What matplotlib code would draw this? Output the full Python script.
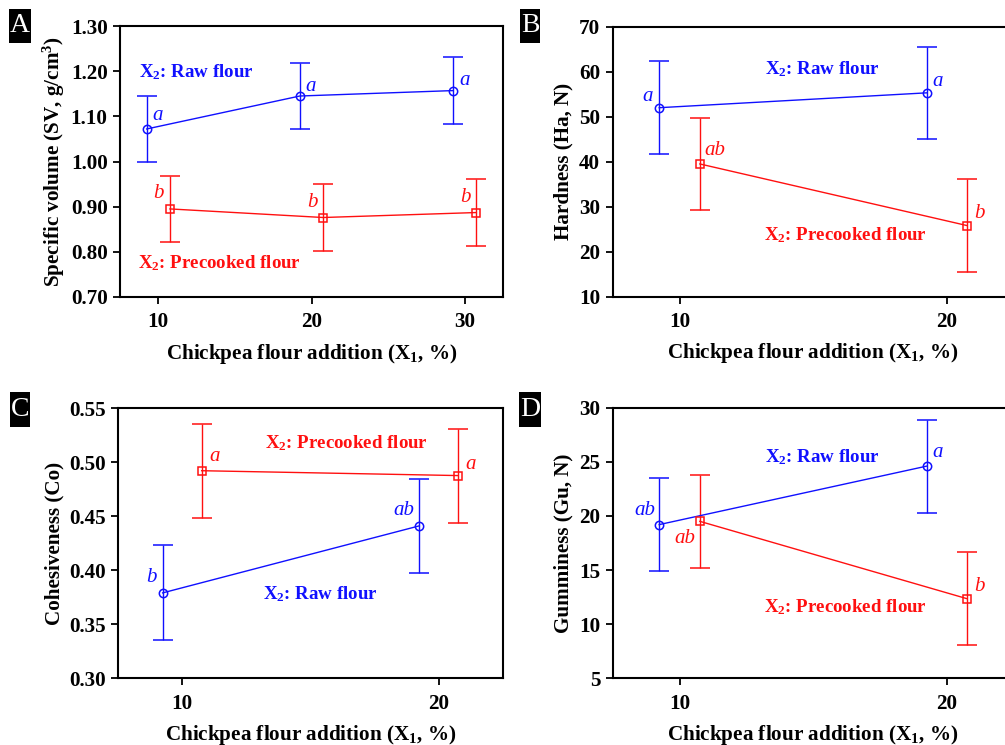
import matplotlib
matplotlib.use("Agg")
import matplotlib.pyplot as plt
from matplotlib.patches import Rectangle

plt.rcParams['font.family'] = ['Liberation Serif', 'DejaVu Serif']
plt.rcParams['mathtext.fontset'] = 'custom'
plt.rcParams['mathtext.rm'] = 'Liberation Serif:bold'
plt.rcParams['mathtext.bf'] = 'Liberation Serif:bold'
plt.rcParams['mathtext.it'] = 'Liberation Serif:italic'

# ---------------- data ----------------
offset = 0.76
# Panel A: specific volume
a_x = [10, 20, 30]
a_raw = [1.072, 1.145, 1.157]
a_raw_err = [0.074, 0.074, 0.074]
a_pre = [0.895, 0.876, 0.887]
a_pre_err = [0.074, 0.074, 0.074]
a_raw_lbl = ['a', 'a', 'a']
a_pre_lbl = ['b', 'b', 'b']

# Panel B: hardness
b_x = [10, 20]
b_raw = [52.0, 55.3]
b_raw_err = [10.3, 10.3]
b_pre = [39.5, 25.8]
b_pre_err = [10.3, 10.3]
b_raw_lbl = ['a', 'a']
b_pre_lbl = ['ab', 'b']

# Panel C: cohesiveness
c_x = [10, 20]
c_raw = [0.379, 0.441]
c_raw_err = [0.044, 0.0435]
c_pre = [0.492, 0.4875]
c_pre_err = [0.0435, 0.0435]
c_raw_lbl = ['b', 'ab']
c_pre_lbl = ['a', 'a']

# Panel D: gumminess
d_x = [10, 20]
d_raw = [19.2, 24.6]
d_raw_err = [4.28, 4.3]
d_pre = [19.5, 12.35]
d_pre_err = [4.3, 4.3]
d_raw_lbl = ['ab', 'a']
d_pre_lbl = ['ab', 'b']

BLUE = '#1010ff'
RED = '#ff1010'

fig = plt.figure(figsize=(10.05, 7.45), dpi=100)
W, H = 1005, 745

def axes_px(left, right, top, bottom):
    return fig.add_axes([left / W, 1 - bottom / H, (right - left) / W, (bottom - top) / H])

axA = axes_px(120, 503, 26, 297)
axB = axes_px(612.7, 1013.7, 26.7, 296.7)
axC = axes_px(118, 503, 408, 678.3)
axD = axes_px(612.7, 1013.7, 407.7, 678.3)

tick_font = dict(family='Liberation Serif', weight='bold', size=15.2)
lab_font = dict(family='Liberation Serif', weight='bold', size=15.2)
ann_font = dict(family='Liberation Serif', weight='bold', size=13.6)

def draw(ax, xs, raw, rerr, pre, perr, rl, pl, roffs, poffs):
    xr = [x - offset for x in xs]
    xp = [x + offset for x in xs]
    ax.errorbar(xr, raw, yerr=rerr, color=BLUE, lw=1.0, elinewidth=1.0, capsize=7.5,
                capthick=1.0, marker='o', ms=6, mfc='none', mec=BLUE, mew=1.1)
    ax.errorbar(xp, pre, yerr=perr, color=RED, lw=1.0, elinewidth=1.0, capsize=7.5,
                capthick=1.0, marker='s', ms=6, mfc='none', mec=RED, mew=1.1)
    for x, y, t, o in zip(xr, raw, rl, roffs):
        ax.annotate(t, (x, y), xytext=o, textcoords='offset points', color=BLUE,
                    fontsize=15, style='italic', family='Liberation Serif',
                    ha='center', va='center')
    for x, y, t, o in zip(xp, pre, pl, poffs):
        ax.annotate(t, (x, y), xytext=o, textcoords='offset points', color=RED,
                    fontsize=15, style='italic', family='Liberation Serif',
                    ha='center', va='center')

def style(ax, xlim, ylim, yticks, fmt, xticks):
    ax.set_xlim(*xlim)
    ax.set_ylim(*ylim)
    ax.set_yticks(yticks)
    ax.set_yticklabels([fmt.format(v) for v in yticks], fontdict=tick_font)
    ax.set_xticks(xticks)
    ax.set_xticklabels([str(v) for v in xticks], fontdict=tick_font)
    for s in ax.spines.values():
        s.set_linewidth(1.5)
        s.set_color('black')
    ax.tick_params(axis='both', direction='out', length=5, width=1.3, pad=4,
                   top=False, right=False)
    ax.tick_params(axis='x', pad=6)
    ax.set_xlabel('Chickpea flour addition (X$_{\\mathbf{1}}$, %)', fontdict=lab_font)
    ax.xaxis.set_label_coords(0.5, -0.165)

# A
draw(axA, a_x, a_raw, a_raw_err, a_pre, a_pre_err, a_raw_lbl, a_pre_lbl,
     [(8, 10), (8, 7), (8, 7)], [(-8, 11), (-8, 11), (-8, 11)])
style(axA, (7.5, 32.5), (0.70, 1.30), [0.70, 0.80, 0.90, 1.00, 1.10, 1.20, 1.30], '{:.2f}', [10, 20, 30])
axA.set_ylabel('Specific volume (SV, g/cm$^{\\mathbf{3}}$)', fontdict=lab_font)
axA.yaxis.set_label_coords(-0.138, 0.5)
axA.text(8.75, 1.198, 'X$_{\\mathbf{2}}$: Raw flour', color=BLUE, fontdict=ann_font, va='center')
axA.text(8.65, 0.775, 'X$_{\\mathbf{2}}$: Precooked flour', color=RED, fontdict=ann_font, va='center')

# B
draw(axB, b_x, b_raw, b_raw_err, b_pre, b_pre_err, b_raw_lbl, b_pre_lbl,
     [(-8, 8), (8, 8)], [(11, 10), (9, 9)])
style(axB, (7.5, 22.5), (10, 70), [10, 20, 30, 40, 50, 60, 70], '{:d}', [10, 20])
axB.set_ylabel('Hardness (Ha, N)', fontdict=lab_font)
axB.yaxis.set_label_coords(-0.098, 0.5)
axB.text(13.2, 60.6, 'X$_{\\mathbf{2}}$: Raw flour', color=BLUE, fontdict=ann_font, va='center')
axB.text(13.17, 23.6, 'X$_{\\mathbf{2}}$: Precooked flour', color=RED, fontdict=ann_font, va='center')

# C
draw(axC, c_x, c_raw, c_raw_err, c_pre, c_pre_err, c_raw_lbl, c_pre_lbl,
     [(-8, 11), (-11, 11)], [(9, 10), (9, 8)])
style(axC, (7.5, 22.5), (0.30, 0.55), [0.30, 0.35, 0.40, 0.45, 0.50, 0.55], '{:.2f}', [10, 20])
axC.set_ylabel('Cohesiveness (Co)', fontdict=lab_font)
axC.yaxis.set_label_coords(-0.14, 0.5)
axC.text(13.23, 0.5173, 'X$_{\\mathbf{2}}$: Precooked flour', color=RED, fontdict=ann_font, va='center')
axC.text(13.16, 0.3775, 'X$_{\\mathbf{2}}$: Raw flour', color=BLUE, fontdict=ann_font, va='center')

# D
draw(axD, d_x, d_raw, d_raw_err, d_pre, d_pre_err, d_raw_lbl, d_pre_lbl,
     [(-10, 10), (8, 10)], [(-11, -12), (9, 9)])
style(axD, (7.5, 22.5), (5, 30), [5, 10, 15, 20, 25, 30], '{:d}', [10, 20])
axD.set_ylabel('Gumminess (Gu, N)', fontdict=lab_font)
axD.yaxis.set_label_coords(-0.098, 0.5)
axD.text(13.2, 25.47, 'X$_{\\mathbf{2}}$: Raw flour', color=BLUE, fontdict=ann_font, va='center')
axD.text(13.17, 11.6, 'X$_{\\mathbf{2}}$: Precooked flour', color=RED, fontdict=ann_font, va='center')

# Panel letters (black boxes with white letters)
for (l, x0, x1, y0, y1) in [('A', 9, 31, 9, 43), ('B', 520, 540, 9, 43),
                            ('C', 10, 30, 392, 427), ('D', 519, 541, 392, 427)]:
    fig.patches.append(Rectangle((x0 / W, 1 - y1 / H), (x1 - x0) / W, (y1 - y0) / H,
                                 transform=fig.transFigure, fc='black', ec='none'))
    fig.text((x0 + x1) / 2 / W, 1 - (y0 + y1) / 2 / H, l, color='white', fontsize=20,
             family='Liberation Serif', ha='center', va='center')

fig.savefig('out.png', dpi=100)
